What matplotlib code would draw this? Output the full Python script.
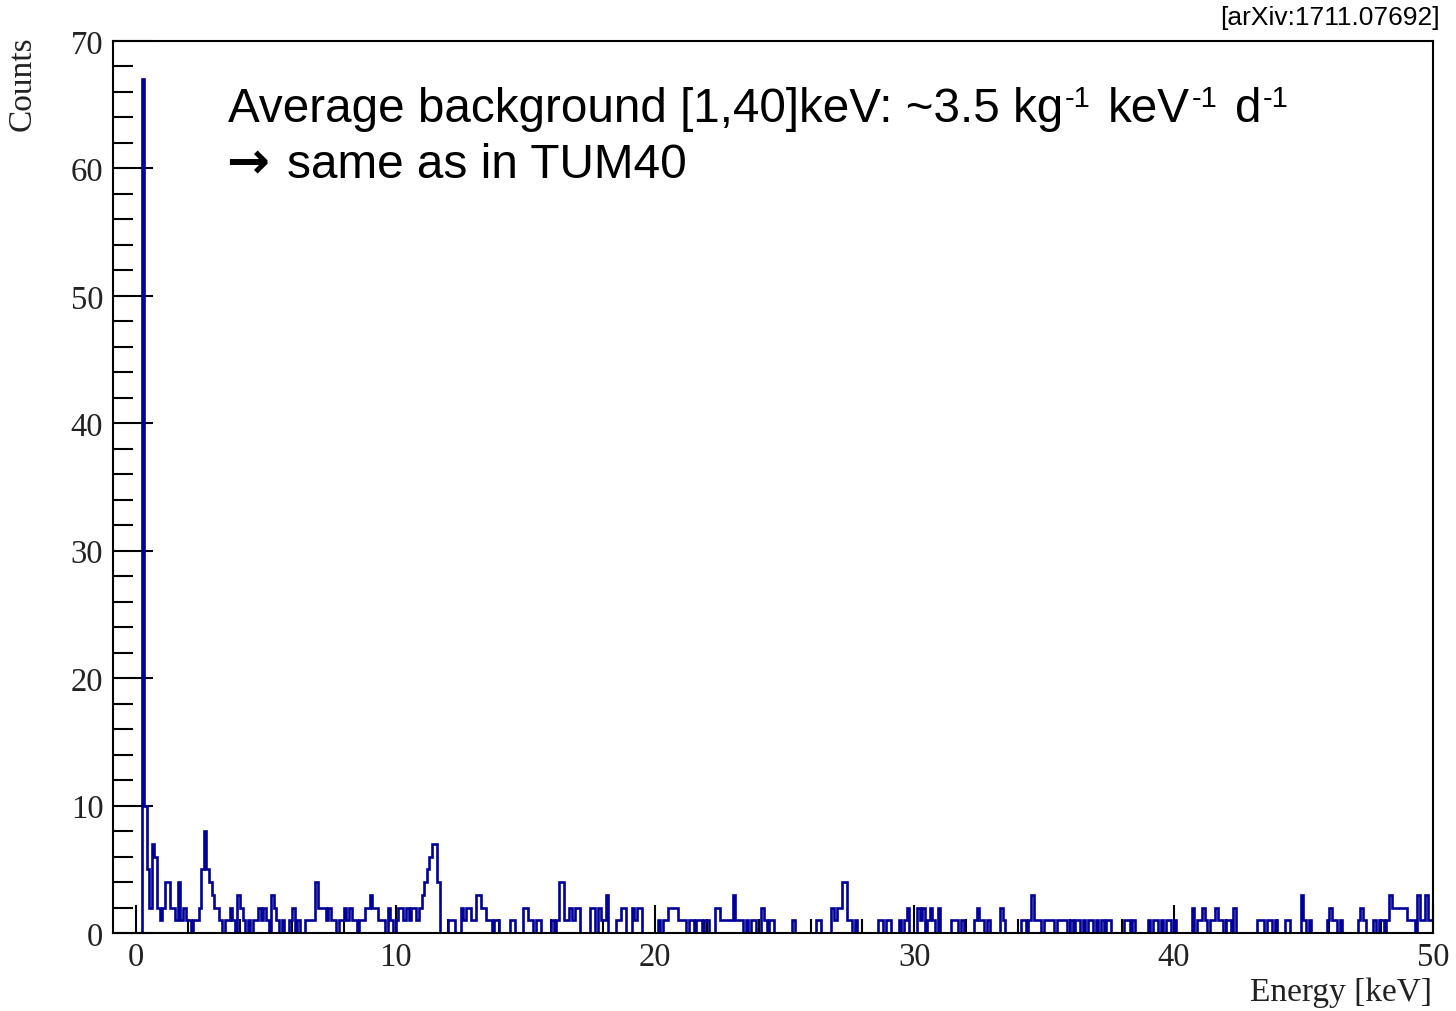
import numpy as np
import matplotlib
matplotlib.use("Agg")
import matplotlib.pyplot as plt
from matplotlib.ticker import MultipleLocator

# ---- data: counts per 0.1 keV bin ----
counts_0_10 = [
    0, 0, 67, 10, 5, 2, 7, 6, 2, 1,
    2, 4, 4, 2, 2, 1, 4, 1, 2, 1,
    1, 0, 1, 1, 2, 5, 8, 5, 4, 3,
    2, 2, 1, 0, 1, 1, 2, 1, 0, 3,
    2, 1, 0, 1, 0, 1, 1, 2, 1, 2,
    1, 0, 3, 2, 1, 0, 1, 0, 0, 1,
    2, 0, 1, 0, 0, 1, 1, 1, 1, 4,
    2, 2, 2, 1, 2, 1, 1, 0, 1, 1,
    2, 1, 2, 1, 1, 0, 1, 1, 2, 2,
    3, 2, 2, 1, 1, 1, 0, 2, 1, 0,
]
counts_10_20 = [
    1, 2, 2, 1, 2, 1, 2, 2, 1, 2,
    3, 4, 5, 6, 7, 7, 4, 0, 0, 0,
    1, 1, 1, 0, 0, 2, 1, 2, 2, 1,
    1, 3, 3, 2, 2, 1, 1, 0, 1, 1,
    0, 0, 0, 0, 1, 1, 0, 0, 0, 2,
    2, 1, 1, 0, 1, 1, 0, 0, 0, 0,
    1, 0, 1, 4, 4, 1, 1, 2, 1, 2,
    2, 0, 0, 0, 0, 2, 2, 0, 2, 1,
    1, 3, 0, 0, 0, 1, 1, 2, 2, 0,
    0, 2, 1, 2, 2, 0, 0, 0, 0, 0,
]
counts_20_30 = [
    0, 1, 0, 1, 1, 2, 2, 2, 2, 1,
    1, 1, 0, 1, 1, 0, 1, 1, 0, 1,
    1, 0, 0, 2, 2, 1, 1, 1, 1, 1,
    3, 1, 1, 1, 0, 1, 0, 1, 1, 0,
    0, 2, 1, 0, 1, 1, 0, 0, 0, 0,
    0, 0, 0, 1, 0, 0, 0, 0, 0, 0,
    0, 0, 1, 1, 0, 0, 0, 0, 2, 1,
    2, 2, 4, 4, 1, 1, 0, 1, 0, 0,
    0, 0, 0, 0, 0, 0, 1, 1, 0, 1,
    1, 0, 0, 0, 1, 0, 1, 2, 0, 0,
]
counts_30_40 = [
    0, 2, 1, 2, 0, 1, 2, 1, 0, 2,
    0, 0, 0, 0, 1, 1, 1, 0, 1, 0,
    0, 0, 0, 1, 2, 1, 1, 0, 1, 0,
    0, 0, 0, 2, 1, 0, 0, 0, 0, 0,
    0, 1, 1, 0, 1, 3, 1, 1, 1, 0,
    1, 1, 1, 1, 0, 1, 1, 1, 1, 0,
    1, 0, 1, 1, 0, 1, 0, 1, 1, 0,
    1, 0, 1, 0, 1, 1, 0, 0, 0, 0,
    0, 1, 1, 0, 1, 0, 0, 0, 0, 0,
    1, 0, 1, 1, 0, 1, 0, 1, 1, 0,
]
counts_40_50 = [
    1, 0, 0, 0, 0, 0, 0, 2, 0, 1,
    1, 2, 1, 0, 1, 1, 2, 1, 1, 0,
    1, 1, 0, 2, 0, 0, 0, 0, 0, 0,
    0, 0, 1, 1, 1, 0, 1, 1, 0, 1,
    0, 0, 0, 1, 1, 0, 0, 0, 0, 3,
    1, 0, 1, 0, 0, 0, 0, 0, 0, 1,
    2, 1, 1, 0, 1, 0, 0, 0, 0, 0,
    0, 1, 2, 1, 0, 0, 0, 1, 0, 1,
    1, 0, 1, 3, 2, 2, 2, 2, 2, 2,
    1, 1, 1, 0, 3, 1, 1, 3, 1, 1,
]

energy_range = (0.0, 50.0)
x_ticks = [0, 10, 20, 30, 40, 50]
y_ticks = [0, 10, 20, 30, 40, 50, 60, 70]
x_label = "Energy [keV]"
y_label = "Counts"
# first annotation line: (text, is_superscript)
note_line1 = [("Average background [1,40]keV: ~3.5 kg", False), ("-1", True),
              ("keV", False), ("-1", True), ("d", False), ("-1", True)]
note_arrow = "\u2192"
note_line2 = "same as in TUM40"
source_text = "[arXiv:1711.07692]"

counts = np.array(counts_0_10 + counts_10_20 + counts_20_30 + counts_30_40 + counts_40_50)
edges = np.linspace(energy_range[0], energy_range[1], len(counts) + 1)

W, H = 1456, 1012
fig = plt.figure(figsize=(W / 100, H / 100), dpi=100)
ax = fig.add_axes([113 / W, 1 - 934 / H, (1433 - 113) / W, (934 - 42) / H])

ax.stairs(counts, edges, baseline=0, color="#000099", lw=1.9, zorder=2)

ax.set_xlim(-0.9, 50)
ax.set_ylim(0, 70)
ax.set_xticks(x_ticks)
ax.set_yticks(y_ticks)
ax.xaxis.set_minor_locator(MultipleLocator(2))
ax.yaxis.set_minor_locator(MultipleLocator(2))

serif = ["Liberation Serif", "DejaVu Serif"]
ax.tick_params(axis="both", which="both", direction="in", top=False, right=False,
               width=1.5, colors="black", labelcolor="#222222")
ax.tick_params(axis="y", which="major", length=28.5, pad=7)
ax.tick_params(axis="y", which="minor", length=14.5)
ax.tick_params(axis="x", which="major", length=20, pad=6)
ax.tick_params(axis="x", which="minor", length=10)
for lab in ax.get_xticklabels() + ax.get_yticklabels():
    lab.set_fontfamily(serif)
    lab.set_fontsize(23.5)

for sp in ax.spines.values():
    sp.set_linewidth(1.5)
    sp.set_zorder(3)

fig.text(22 / W, 1 - 36 / H, y_label, rotation=90, ha="center", va="top",
         fontsize=24, family=serif, color="#222222")
fig.text(1432 / W, 1 - 993 / H, x_label, ha="right", va="center",
         fontsize=24, family=serif, color="#222222")

# annotation, first line built piece by piece (superscripts with hyphen)
sans = ["Liberation Sans", "DejaVu Sans"]
renderer = fig.canvas.get_renderer()
x_px = 228.0
base1 = 122.0
prev_sup = False
for txt, sup in note_line1:
    if not sup and prev_sup:
        x_px += 17
    if sup:
        x_px += 2
        t = fig.text(x_px / W, 1 - (base1 - 15) / H, txt, ha="left", va="baseline",
                     fontsize=21, family=sans, color="black")
    else:
        t = fig.text(x_px / W, 1 - base1 / H, txt, ha="left", va="baseline",
                     fontsize=34.3, family=sans, color="black")
    bb = t.get_window_extent(renderer=renderer)
    x_px = bb.x1
    prev_sup = sup

fig.text(226 / W, 1 - 178 / H, note_arrow, ha="left", va="baseline",
         fontsize=37, family=["DejaVu Sans"], fontweight="bold", color="black")
fig.text(287 / W, 1 - 178 / H, note_line2, ha="left", va="baseline",
         fontsize=34.4, family=sans, color="black")
fig.text(1440 / W, 1 - 18 / H, source_text, ha="right", va="center",
         fontsize=19, family=sans, color="black")

fig.savefig("out.png", dpi=100)
